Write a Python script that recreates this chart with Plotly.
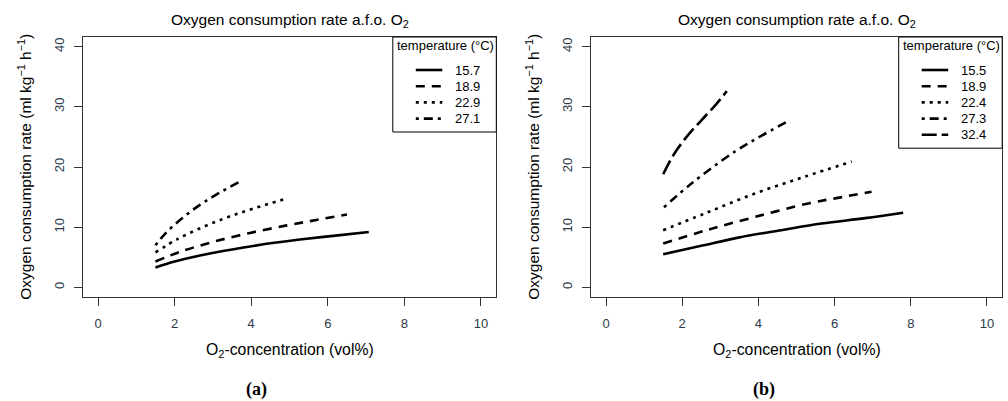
import plotly.graph_objects as go

# ---------------- data ----------------
temps_a = ["15.7", "18.9", "22.9", "27.1"]
xa_157 = [1.5, 2.0, 2.66, 3.3, 3.97, 4.6, 5.27, 6.2, 7.07]
ya_157 = [3.3, 4.3, 5.3, 6.1, 6.8, 7.4, 7.95, 8.6, 9.2]
xa_189 = [1.5, 2.14, 3.0, 3.97, 4.93, 5.7, 6.5]
ya_189 = [4.3, 5.9, 7.55, 9.05, 10.3, 11.2, 12.1]
xa_229 = [1.5, 2.1, 2.75, 3.4, 4.06, 4.95]
ya_229 = [5.8, 8.1, 10.05, 11.7, 13.1, 14.8]
xa_271 = [1.5, 1.75, 2.18, 2.66, 3.14, 3.71]
ya_271 = [7.0, 8.9, 11.4, 13.7, 15.6, 17.6]

temps_b = ["15.5", "18.9", "22.4", "27.3", "32.4"]
xb_155 = [1.5, 2.5, 3.47, 4.6, 5.66, 6.8, 7.8]
yb_155 = [5.5, 6.9, 8.27, 9.5, 10.6, 11.5, 12.4]
xb_189 = [1.5, 2.64, 3.91, 5.31, 6.2, 6.97]
yb_189 = [7.3, 9.5, 11.7, 13.95, 15.0, 15.9]
xb_224 = [1.5, 2.6, 3.91, 5.22, 6.45]
yb_224 = [9.5, 12.3, 15.6, 18.4, 20.9]
xb_273 = [1.52, 2.25, 3.39, 4.04, 4.72]
yb_273 = [13.3, 17.3, 22.6, 25.05, 27.4]
xb_324 = [1.5, 1.77, 2.12, 2.51, 2.9, 3.17]
yb_324 = [18.8, 22.0, 25.05, 27.8, 30.5, 32.6]

x_ticks = [0, 2, 4, 6, 8, 10]
y_ticks = [0, 10, 20, 30, 40]

title_text = "Oxygen consumption rate a.f.o. O<sub>2</sub>"
ytitle_text = "Oxygen consumption rate (ml kg<sup>\u22121</sup> h<sup>\u22121</sup>)"
xtitle_text = "O<sub>2</sub>-concentration (vol%)"
legend_title = "temperature (\u00b0C)"
panel_labels = ["(a)", "(b)"]

# ---------------- styles ----------------
W, H = 1008, 401
FONT = "Liberation Sans, Arial, sans-serif"
dashes = ["solid", "9px,7px", "3px,5px", "3px,5px,9px,5px", "15px,5px"]
LW = 2.6


def PX(p):
    return p / W


def PY(p):
    return 1 - p / H


fig = go.Figure()

series_a = [(xa_157, ya_157), (xa_189, ya_189), (xa_229, ya_229), (xa_271, ya_271)]
series_b = [(xb_155, yb_155), (xb_189, yb_189), (xb_224, yb_224), (xb_273, yb_273), (xb_324, yb_324)]

for i, (xs, ys) in enumerate(series_a):
    fig.add_trace(go.Scatter(x=xs, y=ys, mode="lines", name=temps_a[i],
                             line=dict(color="black", width=LW, dash=dashes[i], shape="spline"),
                             xaxis="x", yaxis="y", showlegend=False))
for i, (xs, ys) in enumerate(series_b):
    fig.add_trace(go.Scatter(x=xs, y=ys, mode="lines", name=temps_b[i],
                             line=dict(color="black", width=LW, dash=dashes[i], shape="spline"),
                             xaxis="x2", yaxis="y2", showlegend=False))

panels = [
    dict(left=82.7, right=496.3),
    dict(left=590.8, right=1002.2),
]
top, bottom = 37, 297

axis_common = dict(showgrid=False, zeroline=False, showline=True, mirror=True,
                   linecolor="#333333", linewidth=1, ticks="outside", ticklen=8,
                   tickcolor="#333333", tickwidth=1,
                   tickfont=dict(family=FONT, size=13, color="#2b3a4a"))

layout = dict(
    width=W, height=H, margin=dict(l=0, r=0, t=0, b=0),
    paper_bgcolor="white", plot_bgcolor="white", showlegend=False,
    font=dict(family=FONT, size=13, color="black"),
)
for k, p in enumerate(panels):
    sx = "" if k == 0 else "2"
    layout["xaxis" + sx] = dict(axis_common, domain=[PX(p["left"]), PX(p["right"])],
                                range=[-0.4, 10.4], tickvals=x_ticks,
                                anchor="y" + sx, ticklabelstandoff=6)
    layout["yaxis" + sx] = dict(axis_common, domain=[PY(bottom), PY(top)],
                                range=[-1.6, 41.6], tickvals=y_ticks, tickangle=-90,
                                anchor="x" + sx, ticklabelstandoff=5)
fig.update_layout(**layout)

annotations = []
shapes = []
for k, p in enumerate(panels):
    cx = (p["left"] + p["right"]) / 2
    annotations.append(dict(text=title_text, x=PX(cx), y=PY(20), xref="paper", yref="paper",
                            showarrow=False, font=dict(family=FONT, size=15.5, color="black"),
                            xanchor="center", yanchor="middle"))
    annotations.append(dict(text=xtitle_text, x=PX(cx), y=PY(350), xref="paper", yref="paper",
                            showarrow=False, font=dict(family=FONT, size=15.8, color="black"),
                            xanchor="center", yanchor="middle"))
    annotations.append(dict(text=ytitle_text, x=PX(p["left"] - 58), y=PY((top + bottom) / 2),
                            xref="paper", yref="paper", textangle=-90,
                            showarrow=False, font=dict(family=FONT, size=15.5, color="black"),
                            xanchor="center", yanchor="middle"))
    annotations.append(dict(text="<b>" + panel_labels[k] + "</b>", x=PX(cx - 33),
                            y=PY(389), xref="paper", yref="paper", showarrow=False,
                            font=dict(family="Liberation Serif, serif", size=18, color="black"),
                            xanchor="center", yanchor="middle"))

    # legend box (R-style, top-right of the plot region)
    temps = temps_a if k == 0 else temps_b
    box_l = p["right"] - 103.5
    box_b = top + 30.2 + 16.2 * len(temps)
    shapes.append(dict(type="rect", xref="paper", yref="paper",
                       x0=PX(box_l), x1=PX(p["right"]), y0=PY(box_b), y1=PY(top),
                       line=dict(color="black", width=1), fillcolor="white", layer="above"))
    annotations.append(dict(text=legend_title, x=PX(box_l + 2.5), y=PY(46), xref="paper", yref="paper",
                            showarrow=False, font=dict(family=FONT, size=13, color="black"),
                            xanchor="left", yanchor="middle"))
    for i, t in enumerate(temps):
        yy = 70 + 16.2 * i
        shapes.append(dict(type="line", xref="paper", yref="paper",
                           x0=PX(box_l + 23), x1=PX(box_l + 49.5), y0=PY(yy), y1=PY(yy),
                           line=dict(color="black", width=LW, dash=dashes[i]), layer="above"))
        annotations.append(dict(text=t, x=PX(box_l + 60.5), y=PY(yy), xref="paper", yref="paper",
                                showarrow=False, font=dict(family=FONT, size=13, color="black"),
                                xanchor="left", yanchor="middle"))

fig.update_layout(annotations=annotations, shapes=shapes)
fig.write_html("out.html", config={"displayModeBar": False})

# remove the browser's default page margin so the figure sits at the window origin
with open("out.html", "r", encoding="utf-8") as f:
    html = f.read()
html = html.replace("<head>", "<head><style>html,body{margin:0;padding:0;overflow:hidden;}</style>", 1)
with open("out.html", "w", encoding="utf-8") as f:
    f.write(html)
